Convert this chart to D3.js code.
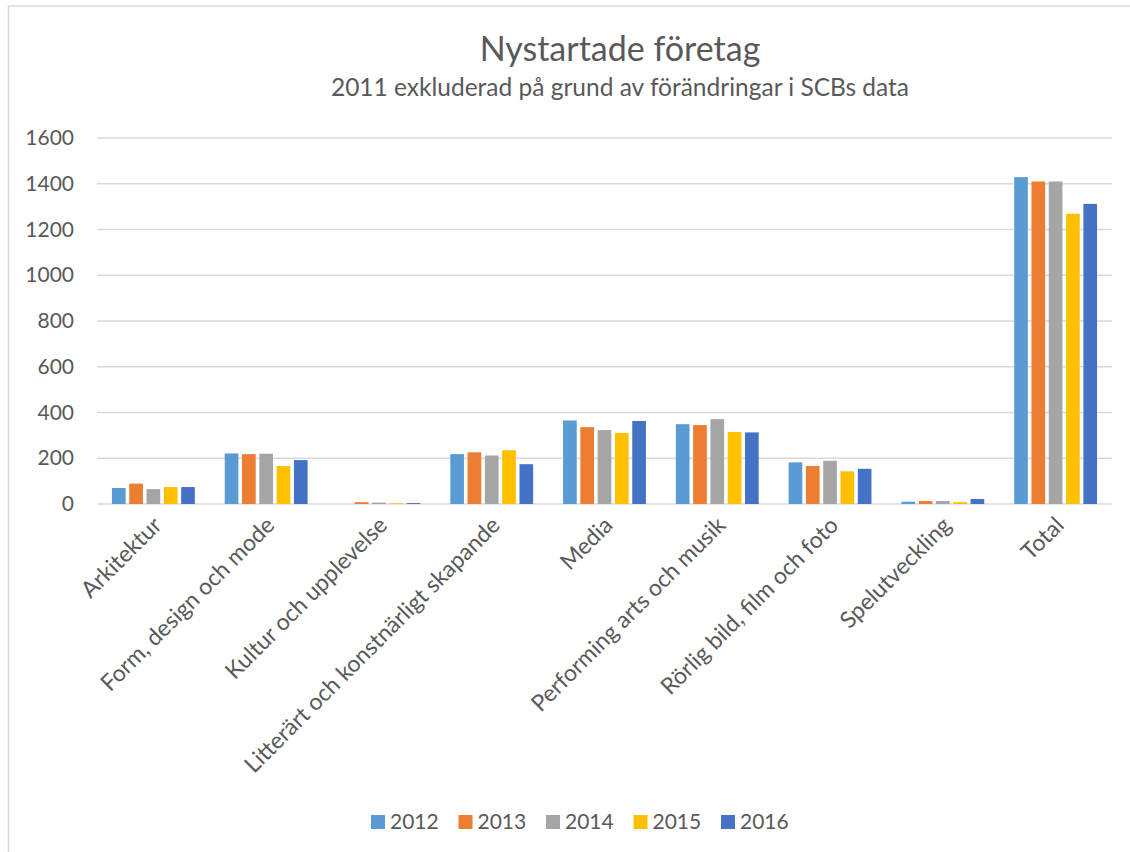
<!DOCTYPE html>
<html>
<head>
<meta charset="utf-8">
<script src="https://cdn.jsdelivr.net/npm/d3@7"></script>
<style>
  html, body { margin: 0; padding: 0; background: #fff; }
  svg { display: block; }
  text { font-family: Lato, "Open Sans", sans-serif; fill: #595959; }
</style>
</head>
<body>
<svg id="chart" width="1130" height="852"></svg>
<script>
const categories = ["Arkitektur", "Form, design och mode", "Kultur och upplevelse",
  "Litterärt och konstnärligt skapande", "Media", "Performing arts och musik",
  "Rörlig bild, film och foto", "Spelutveckling", "Total"];
const years = ["2012", "2013", "2014", "2015", "2016"];
const v2012 = [70, 221, 0, 218, 365, 349, 182, 10, 1429];
const v2013 = [89, 218, 8, 226, 336, 345, 166, 13, 1410];
const v2014 = [65, 220, 6, 212, 323, 371, 189, 13, 1410];
const v2015 = [74, 166, 3, 235, 311, 315, 143, 8, 1269];
const v2016 = [74, 192, 4, 174, 363, 313, 154, 22, 1312];
const yTicks = [0, 200, 400, 600, 800, 1000, 1200, 1400, 1600];
const colors = ["#5B9BD5", "#ED7D31", "#A5A5A5", "#FFC000", "#4472C4"];
const title = "Nystartade företag";
const subtitle = "2011 exkluderad på grund av förändringar i SCBs data";

const series = [v2012, v2013, v2014, v2015, v2016];
const svg = d3.select("#chart");

// chart border (left and top visible)
svg.append("rect").attr("x", 8.5).attr("y", 6).attr("width", 1300).attr("height", 1000)
  .attr("fill", "none").attr("stroke", "#d9d9d9").attr("stroke-width", 1.5);

const pLeft = 97, pRight = 1112, pTop = 138, pBottom = 504;
const x0 = d3.scaleBand().domain(categories).range([pLeft, pRight]).padding(0);
const x1 = d3.scaleBand().domain(years).range([0, x0.bandwidth()])
  .paddingInner(0.21).paddingOuter(0.865);
const y = d3.scaleLinear().domain([0, 1600]).range([pBottom, pTop]);

// gridlines
svg.append("g").selectAll("line").data(yTicks).join("line")
  .attr("x1", pLeft).attr("x2", pRight)
  .attr("y1", d => y(d)).attr("y2", d => y(d))
  .attr("stroke", "#d9d9d9").attr("stroke-width", 1.3);

// y axis labels
const yAxis = d3.axisLeft(y).tickValues(yTicks).tickFormat(d3.format("d"))
  .tickSize(0).tickPadding(0);
const ya = svg.append("g").attr("transform", `translate(${74},0)`).call(yAxis);
ya.select(".domain").remove();
ya.selectAll("text").attr("font-size", 21).attr("fill", "#595959")
  .style("font-family", "Lato, 'Open Sans', sans-serif");

// bars
const g = svg.append("g");
categories.forEach((c, i) => {
  series.forEach((s, j) => {
    g.append("rect")
      .attr("x", x0(c) + x1(years[j]))
      .attr("width", x1.bandwidth())
      .attr("y", y(s[i]))
      .attr("height", pBottom - y(s[i]))
      .attr("fill", colors[j]);
  });
});

// x labels
const xAxis = d3.axisBottom(x0).tickSize(0).tickPadding(0);
const xa = svg.append("g").attr("transform", `translate(0,${pBottom})`).call(xAxis);
xa.select(".domain").remove();
xa.selectAll(".tick text")
  .attr("font-size", 23).attr("fill", "#595959")
  .style("font-family", "Lato, 'Open Sans', sans-serif")
  .attr("text-anchor", "end")
  .attr("y", 0).attr("dy", "0.35em")
  .attr("transform", "translate(4,17) rotate(-45)");

// titles
svg.append("text").attr("x", 620).attr("y", 61).attr("text-anchor", "middle")
  .attr("font-size", 34).text(title);
svg.append("text").attr("x", 620).attr("y", 96).attr("text-anchor", "middle")
  .attr("font-size", 24.5).text(subtitle);

// legend
const lg = svg.append("g");
years.forEach((yr, j) => {
  const lx = 371 + j * 87.5;
  lg.append("rect").attr("x", lx).attr("y", 815).attr("width", 14).attr("height", 14)
    .attr("fill", colors[j]);
  lg.append("text").attr("x", lx + 19).attr("y", 829).attr("font-size", 21).text(yr);
});
</script>
</body>
</html>
